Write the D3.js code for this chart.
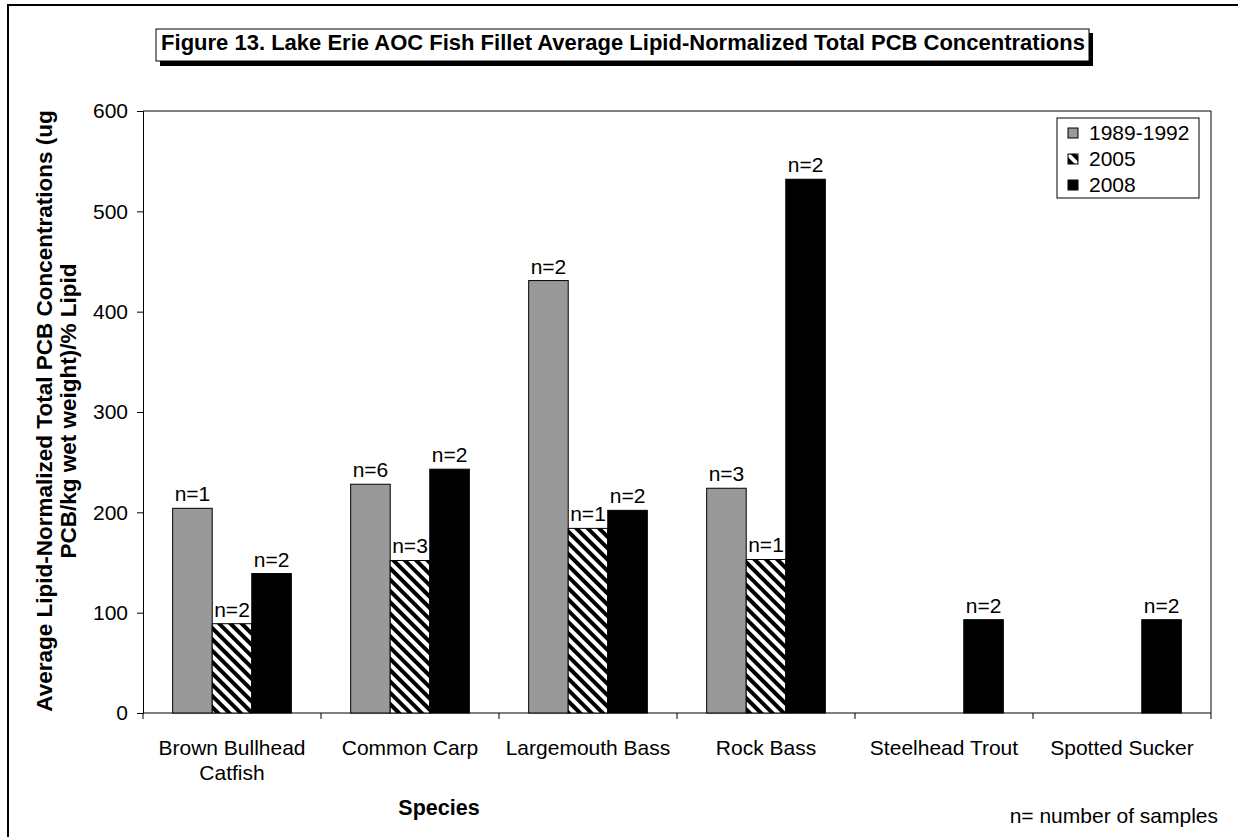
<!DOCTYPE html>
<html>
<head>
<meta charset="utf-8">
<script src="https://cdn.jsdelivr.net/npm/d3@7"></script>
<style>
  html, body { margin: 0; padding: 0; background: #fff; }
  svg { display: block; font-family: "Liberation Sans", Arial, sans-serif; }
</style>
</head>
<body>
<svg id="chart" width="1238" height="837"></svg>
<script>
// Species along the x axis (multi-line labels)
const species = ["Brown Bullhead|Catfish", "Common Carp", "Largemouth Bass", "Rock Bass", "Steelhead Trout", "Spotted Sucker"];
// Sampling periods shown in the legend
const periods = ["1989-1992", "2005", "2008"];
// Average lipid-normalized total PCB (null = not sampled)
const values1989 = [204, 228, 431, 224, null, null];
const values2005 = [89, 152, 184, 153, null, null];
const values2008 = [139, 243, 202, 532, 93, 93];
// Sample counts written above bars
const n1989 = [1, 6, 2, 3, null, null];
const n2005 = [2, 3, 1, 1, null, null];
const n2008 = [2, 2, 2, 2, 2, 2];
const yTicks = [0, 100, 200, 300, 400, 500, 600];

const FONT = "'Liberation Sans', Arial, sans-serif";
const svg = d3.select("#chart");
const plot = { left: 143, right: 1211, top: 111, bottom: 713 };

// Hatched fill for 2005
const defs = svg.append("defs");
const pat = defs.append("pattern")
  .attr("id", "hatch")
  .attr("patternUnits", "userSpaceOnUse")
  .attr("width", 8).attr("height", 8)
  .attr("patternTransform", "rotate(-45)");
pat.append("rect").attr("width", 8).attr("height", 8).attr("fill", "#fff");
pat.append("rect").attr("width", 4).attr("height", 8).attr("fill", "#000");

// Outer frame
svg.append("rect")
  .attr("x", 8).attr("y", 5).attr("width", 1240).attr("height", 850)
  .attr("fill", "none").attr("stroke", "#000").attr("stroke-width", 2);

const x = d3.scaleBand().domain(species).range([plot.left, plot.right]).padding(0);
const inner = d3.scaleBand().domain(periods).range([0, x.bandwidth()])
  .paddingInner(0).paddingOuter(0.75);
const y = d3.scaleLinear().domain([0, 600]).range([plot.bottom, plot.top]);

// Plot border (top and right)
svg.append("path")
  .attr("d", `M${plot.left},${plot.top}H${plot.right}V${plot.bottom}`)
  .attr("fill", "none").attr("stroke", "#000").attr("stroke-width", 1);

// Y axis
const yAxis = svg.append("g")
  .attr("transform", `translate(${plot.left},0)`)
  .call(d3.axisLeft(y).tickValues(yTicks).tickSize(6).tickPadding(9));
yAxis.select(".domain").attr("stroke", "#000");
yAxis.selectAll(".tick line").attr("stroke", "#000");
yAxis.selectAll(".tick text").attr("font-size", 21).attr("fill", "#000")
  .attr("font-family", FONT);

// X axis with ticks at category boundaries
const xAxisG = svg.append("g").attr("transform", `translate(0,${plot.bottom})`);
xAxisG.append("line").attr("x1", plot.left).attr("x2", plot.right)
  .attr("stroke", "#000");
const bounds = species.map(s => x(s)).concat([plot.right]);
xAxisG.selectAll("line.tk").data(bounds).join("line").attr("class", "tk")
  .attr("x1", d => d).attr("x2", d => d).attr("y1", 0).attr("y2", 6)
  .attr("stroke", "#000");
const xl = xAxisG.selectAll("text.cat").data(species).join("text").attr("class", "cat")
  .attr("x", d => x(d) + x.bandwidth() / 2)
  .attr("y", 42)
  .attr("text-anchor", "middle").attr("font-size", 21).attr("fill", "#000");
xl.each(function(d) {
  const lines = d.split("|");
  d3.select(this).selectAll("tspan").data(lines).join("tspan")
    .attr("x", x(d) + x.bandwidth() / 2)
    .attr("dy", (l, i) => i === 0 ? 0 : 25)
    .text(l => l);
});

// Bars
const series = [
  { key: periods[0], vals: values1989, ns: n1989, fill: "#999999" },
  { key: periods[1], vals: values2005, ns: n2005, fill: "url(#hatch)" },
  { key: periods[2], vals: values2008, ns: n2008, fill: "#000000" }
];
series.forEach(s => {
  const data = species.map((sp, i) => ({ sp, v: s.vals[i], n: s.ns[i] })).filter(d => d.v != null);
  svg.append("g").selectAll("rect").data(data).join("rect")
    .attr("x", d => x(d.sp) + inner(s.key))
    .attr("y", d => y(d.v))
    .attr("width", inner.bandwidth())
    .attr("height", d => y(0) - y(d.v))
    .attr("fill", s.fill)
    .attr("stroke", "#000").attr("stroke-width", 1);
  svg.append("g").selectAll("text").data(data).join("text")
    .attr("x", d => x(d.sp) + inner(s.key) + inner.bandwidth() / 2)
    .attr("y", d => y(d.v) - 7)
    .attr("text-anchor", "middle").attr("font-size", 21).attr("fill", "#000")
    .text(d => `n=${d.n}`);
});

// Title box with drop shadow
svg.append("rect").attr("x", 160).attr("y", 33).attr("width", 933).attr("height", 33).attr("fill", "#000");
svg.append("rect").attr("x", 156).attr("y", 29).attr("width", 933).attr("height", 32)
  .attr("fill", "#fff").attr("stroke", "#000").attr("stroke-width", 1);
svg.append("text").attr("x", 623).attr("y", 50).attr("text-anchor", "middle")
  .attr("font-size", 22).attr("font-weight", "bold").attr("fill", "#000")
  .text("Figure 13. Lake Erie AOC Fish Fillet Average Lipid-Normalized Total PCB Concentrations");

// Y axis title
const yt = svg.append("text")
  .attr("transform", `translate(0,411) rotate(-90)`)
  .attr("text-anchor", "middle").attr("font-size", 22.5).attr("font-weight", "bold").attr("fill", "#000");
yt.append("tspan").attr("x", 0).attr("y", 52).text("Average Lipid-Normalized Total PCB Concentrations (ug");
yt.append("tspan").attr("x", 0).attr("y", 76).text("PCB/kg wet weight)/% Lipid");

// X axis title
svg.append("text").attr("x", 439).attr("y", 815).attr("text-anchor", "middle")
  .attr("font-size", 21.5).attr("font-weight", "bold").attr("fill", "#000").text("Species");

// Footnote
svg.append("text").attr("x", 1218).attr("y", 823).attr("text-anchor", "end")
  .attr("font-size", 21).attr("fill", "#000").text("n= number of samples");

// Legend
const lg = svg.append("g");
lg.append("rect").attr("x", 1057).attr("y", 118).attr("width", 142).attr("height", 80)
  .attr("fill", "#fff").attr("stroke", "#000").attr("stroke-width", 1);
series.forEach((s, i) => {
  const cy = 133 + i * 26;
  lg.append("rect").attr("x", 1068).attr("y", cy - 5).attr("width", 10).attr("height", 10)
    .attr("fill", s.fill).attr("stroke", "#000").attr("stroke-width", 1);
  lg.append("text").attr("x", 1089).attr("y", cy + 7).attr("font-size", 21).attr("fill", "#000").text(s.key);
});
</script>
</body>
</html>
